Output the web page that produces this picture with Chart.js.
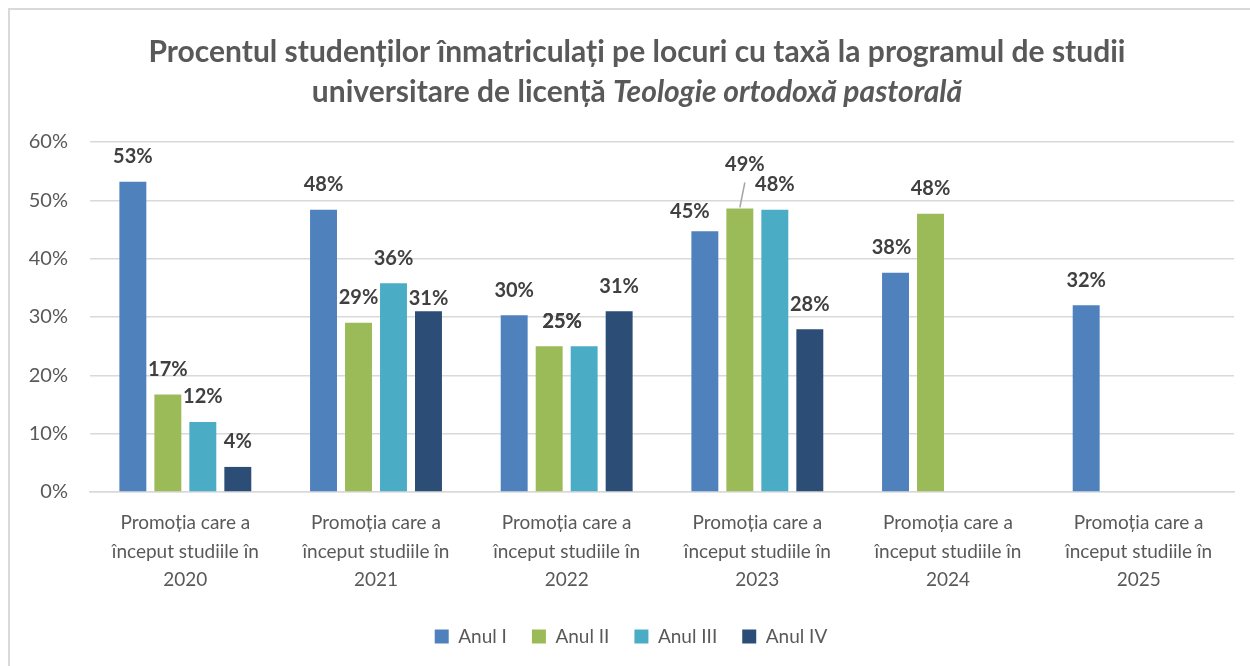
<!DOCTYPE html>
<html>
<head>
<meta charset="utf-8">
<script src="https://cdn.jsdelivr.net/npm/chart.js@4/dist/chart.umd.min.js"></script>
<style>
  html, body { margin: 0; padding: 0; background: #ffffff; }
  #wrap { position: relative; width: 1250px; height: 666px; }
</style>
</head>
<body>
<div id="wrap"><canvas id="c"></canvas></div>
<script>
// ---- data ----
const categories = [
  ['Promoția care a', 'început studiile în', '2020'],
  ['Promoția care a', 'început studiile în', '2021'],
  ['Promoția care a', 'început studiile în', '2022'],
  ['Promoția care a', 'început studiile în', '2023'],
  ['Promoția care a', 'început studiile în', '2024'],
  ['Promoția care a', 'început studiile în', '2025']
];
const seriesNames = ['Anul I', 'Anul II', 'Anul III', 'Anul IV'];
const anulI   = [53.2, 48.4, 30.3, 44.7, 37.6, 32.0];
const anulII  = [16.7, 29.0, 25.0, 48.6, 47.7, null];
const anulIII = [12.0, 35.8, 25.0, 48.4, null, null];
const anulIV  = [4.3, 31.0, 31.0, 27.9, null, null];
const yTicks  = [0, 10, 20, 30, 40, 50, 60];
const titleLine1 = 'Procentul studenților înmatriculați pe locuri cu taxă la programul de studii';
const titleLine2a = 'universitare de licență ';
const titleLine2b = 'Teologie ortodoxă pastorală';

// ---- styles ----
const colors = ['#4f81bd', '#9bbb59', '#4bacc6', '#2c4d75'];
const FONT = 'Lato';
const TEXT = '#595959';
const GRID = '#d9d9d9';
const TITLE_SIZE = 30;

// label placement tweaks (dataset index, category index) -> pixel offsets
const labelTweaks = {
  '3,1': { dx: 0, dy: 12 },
  '1,2': { dx: 13, dy: 0 },
  '2,2': { dx: -22, dy: 0 },
  '0,3': { dx: -15, dy: 5 },
  '1,3': { dx: 5, dy: -19, leader: true },
  '0,4': { dx: -4, dy: 0 }
};

const decorPlugin = {
  id: 'decor',
  beforeDraw(chart) {
    const ctx = chart.ctx;
    ctx.save();
    ctx.fillStyle = '#ffffff';
    ctx.fillRect(0, 0, chart.width, chart.height);
    ctx.strokeStyle = GRID;
    ctx.lineWidth = 2;
    ctx.strokeRect(9, 9, 1400, 800);
    ctx.restore();
  },
  afterDraw(chart) {
    const ctx = chart.ctx;
    ctx.save();
    ctx.fillStyle = TEXT;
    ctx.textBaseline = 'middle';
    ctx.textAlign = 'left';
    const cx = 637;
    const fb = 'bold ' + TITLE_SIZE + 'px ' + FONT;
    const fi = 'italic bold ' + TITLE_SIZE + 'px ' + FONT;
    ctx.font = fb;
    const w1 = ctx.measureText(titleLine1).width;
    ctx.fillText(titleLine1, cx - w1 / 2, 52);
    const wa = ctx.measureText(titleLine2a).width;
    ctx.font = fi;
    const wb = ctx.measureText(titleLine2b).width;
    const x0 = cx - (wa + wb) / 2;
    ctx.font = fb;
    ctx.fillText(titleLine2a, x0, 92);
    ctx.font = fi;
    ctx.fillText(titleLine2b, x0 + wa, 92);
    ctx.restore();
  },
  afterDatasetsDraw(chart) {
    const ctx = chart.ctx;
    ctx.save();
    ctx.font = 'bold 20px ' + FONT;
    ctx.fillStyle = '#404040';
    ctx.textAlign = 'center';
    ctx.textBaseline = 'middle';
    chart.data.datasets.forEach((ds, di) => {
      const meta = chart.getDatasetMeta(di);
      meta.data.forEach((bar, i) => {
        const v = ds.data[i];
        if (v === null || v === undefined) return;
        const t = labelTweaks[di + ',' + i] || { dx: 0, dy: 0 };
        const x = bar.x + t.dx;
        const y = bar.y - 25 + t.dy;
        ctx.fillText(Math.round(v) + '%', x, y);
        if (t.leader) {
          ctx.strokeStyle = '#a6a6a6';
          ctx.lineWidth = 1.5;
          ctx.beginPath();
          ctx.moveTo(x, y + 18);
          ctx.lineTo(bar.x, bar.y - 1);
          ctx.stroke();
        }
      });
    });
    ctx.restore();
  }
};

const seriesData = [anulI, anulII, anulIII, anulIV];

new Chart(document.getElementById('c'), {
  type: 'bar',
  data: {
    labels: categories,
    datasets: seriesNames.map((name, k) => ({
      label: name,
      data: seriesData[k],
      backgroundColor: colors[k],
      borderWidth: 0,
      categoryPercentage: 0.734,
      barPercentage: 0.77
    }))
  },
  options: {
    responsive: true,
    maintainAspectRatio: false,
    animation: false,
    devicePixelRatio: 1,
    layout: { padding: { left: 28, right: 16, top: 142, bottom: 10 } },
    plugins: {
      title: { display: false },
      tooltip: { enabled: false },
      legend: {
        position: 'bottom',
        labels: {
          color: TEXT,
          font: { family: FONT, size: 19 },
          boxWidth: 14,
          boxHeight: 14,
          padding: 25
        }
      }
    },
    scales: {
      x: {
        grid: { display: false },
        border: { display: true, color: GRID, width: 1.5 },
        ticks: {
          color: TEXT,
          font: { family: FONT, size: 19, lineHeight: 1.5 },
          padding: 9,
          maxRotation: 0,
          autoSkip: false
        },
        afterFit(s) { s.height = 110; }
      },
      y: {
        min: 0,
        max: 60,
        afterBuildTicks(s) { s.ticks = yTicks.map(v => ({ value: v })); },
        grid: { color: GRID, lineWidth: 1.5, drawTicks: false },
        border: { display: false },
        ticks: {
          color: TEXT,
          font: { family: FONT, size: 20 },
          padding: 22,
          callback: v => v + '%'
        },
        afterFit(s) { s.width = 62; }
      }
    }
  },
  plugins: [decorPlugin]
});
</script>
</body>
</html>
